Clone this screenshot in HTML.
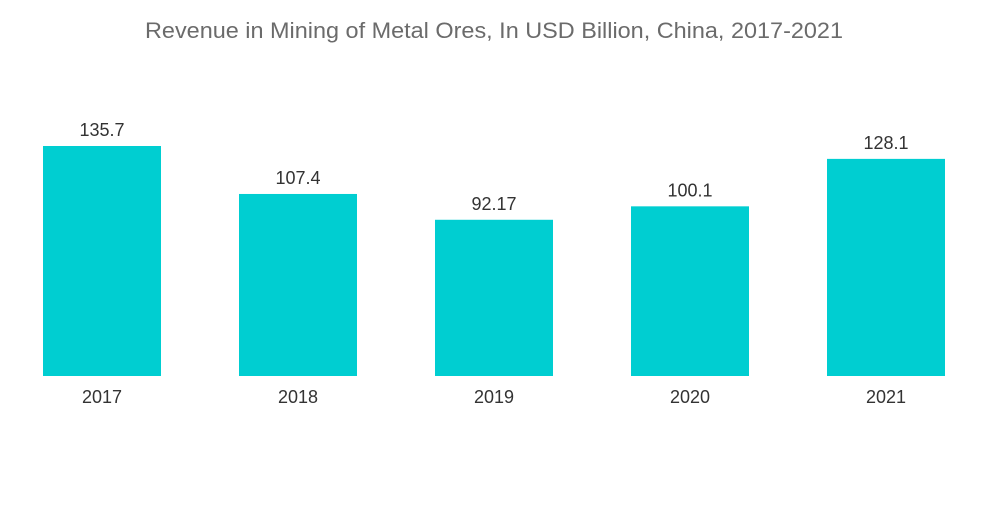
<!DOCTYPE html>
<html><head><meta charset="utf-8"><style>
body{margin:0;background:#fff;width:1000px;height:504px;overflow:hidden;font-family:"Liberation Sans",sans-serif}
</style></head><body>
<svg id="chart" width="1000" height="504" xmlns="http://www.w3.org/2000/svg">
<text x="494" y="38" text-anchor="middle" font-size="22" fill="#6b6b6b" textLength="698" lengthAdjust="spacingAndGlyphs" font-family="Liberation Sans, sans-serif">Revenue in Mining of Metal Ores, In USD Billion, China, 2017-2021</text>
<g id="bars"></g>
</svg>
<script>
const categories=["2017","2018","2019","2020","2021"];
const values=[135.7,107.4,92.17,100.1,128.1];
const valueLabels=["135.7","107.4","92.17","100.1","128.1"];
const baseY=376, pxPerUnit=230/135.7, left=43, step=196, barW=118;
const yScale=v=>baseY-v*pxPerUnit;
const xScale=i=>left+i*step;
const g=document.getElementById('bars');
const NS="http://www.w3.org/2000/svg";
categories.forEach((c,i)=>{
  const r=document.createElementNS(NS,'rect');
  
  
  r.setAttribute('x',xScale(i));r.setAttribute('y',yScale(values[i]));
  r.setAttribute('width',barW);r.setAttribute('height',baseY-yScale(values[i]));
  r.setAttribute('fill','#00CED1');g.appendChild(r);
  const t=document.createElementNS(NS,'text');
  
  
  t.setAttribute('x',xScale(i)+barW/2);t.setAttribute('y',yScale(values[i])-10);
  t.setAttribute('text-anchor','middle');t.setAttribute('font-size','18');t.setAttribute('fill','#333');
  t.textContent=valueLabels[i];g.appendChild(t);
  const x=document.createElementNS(NS,'text');
  
  
  x.setAttribute('x',xScale(i)+barW/2);x.setAttribute('y',403);
  x.setAttribute('text-anchor','middle');x.setAttribute('font-size','18');x.setAttribute('fill','#333');
  x.textContent=c;g.appendChild(x);
});
</script>
</body></html>
